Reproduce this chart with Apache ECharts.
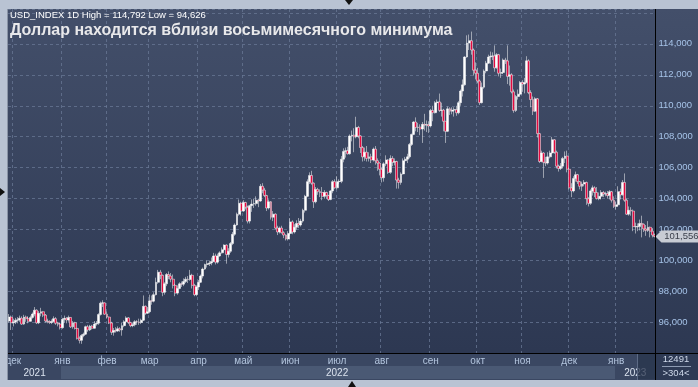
<!DOCTYPE html>
<html><head><meta charset="utf-8">
<script src="https://cdn.jsdelivr.net/npm/echarts@6/dist/echarts.min.js"></script>
<style>html,body{margin:0;padding:0;background:#b9c3d3;}#c{width:698px;height:387px;}</style>
</head><body><div id="c"></div>
<script>
// ---- DATA (rows: [open, close, low, high]) ----
const startDate = '2021-11-29';
const nov21 = [[96.10,96.35,96.00,96.55],[96.35,95.99,95.52,96.45]];
const dec21 = [[95.99,96.04,95.75,96.25],[96.04,96.15,95.90,96.30],[96.15,96.17,95.95,96.35],[96.17,96.28,96.05,96.45],[96.28,95.90,95.85,96.40],[95.90,96.35,95.85,96.50],[96.35,96.25,96.05,96.45],[96.25,96.08,95.95,96.40],[96.08,96.33,96.05,96.45],[96.33,96.55,96.25,96.65],[96.55,96.80,96.40,97.00],[96.80,95.98,95.90,96.85],[95.98,96.60,95.90,96.75],[96.60,96.70,96.40,96.95],[96.70,96.48,96.35,96.75],[96.48,96.10,96.00,96.55],[96.10,96.06,95.95,96.25],[96.06,96.00,95.90,96.15],[96.00,96.06,95.90,96.20],[96.06,96.25,96.00,96.40],[96.25,95.95,95.85,96.35],[95.95,95.90,95.75,96.05],[95.90,95.67,95.55,96.00]];
const jan22 = [[95.67,96.21,95.60,96.30],[96.21,96.27,96.00,96.45],[96.27,96.17,95.95,96.35],[96.17,96.33,96.05,96.45],[96.33,95.72,95.65,96.35],[95.72,95.99,95.60,96.10],[95.99,95.62,95.55,96.05],[95.62,94.98,94.90,95.65],[94.98,94.85,94.65,95.10],[94.85,95.17,94.626,95.25],[95.17,95.25,95.05,95.35],[95.25,95.73,95.20,95.80],[95.73,95.52,95.40,95.85],[95.52,95.77,95.45,95.85],[95.77,95.63,95.55,95.85],[95.63,95.90,95.60,96.10],[95.90,95.96,95.80,96.10],[95.96,96.52,95.85,96.60],[96.52,97.25,96.45,97.35],[97.25,97.27,97.00,97.44],[97.27,96.54,96.50,97.30]];
const feb22 = [[96.54,96.35,96.25,96.70],[96.35,95.97,95.90,96.40],[95.97,95.37,95.20,96.05],[95.37,95.49,95.15,95.65],[95.49,95.45,95.35,95.70],[95.45,95.60,95.40,95.75],[95.60,95.52,95.40,95.70],[95.52,95.80,95.15,96.00],[95.80,96.05,95.70,96.15],[96.05,96.30,95.95,96.40],[96.30,96.00,95.90,96.35],[96.00,95.80,95.70,96.05],[95.80,95.85,95.70,96.00],[95.85,96.05,95.75,96.15],[96.05,96.04,95.85,96.15],[96.04,96.00,95.85,96.25],[96.00,96.15,95.90,96.25],[96.15,97.05,96.10,97.75],[97.05,96.60,96.50,97.10],[96.60,96.70,96.55,97.00]];
const mar22 = [[96.70,97.40,96.60,97.80],[97.40,97.38,97.15,97.75],[97.38,97.80,97.30,97.95],[97.80,98.60,97.75,98.90],[98.60,99.25,98.50,99.40],[99.25,99.05,98.80,99.40],[99.05,97.95,97.70,99.10],[97.95,98.50,97.80,98.60],[98.50,99.10,98.35,99.20],[99.10,99.00,98.80,99.30],[99.00,98.80,98.60,99.20],[98.80,98.40,98.20,99.10],[98.40,97.90,97.70,98.50],[97.90,98.20,97.80,98.40],[98.20,98.50,98.15,98.60],[98.50,98.48,98.30,98.65],[98.48,98.65,98.35,98.85],[98.65,98.80,98.55,98.95],[98.80,98.78,98.55,99.00],[98.78,99.05,98.70,99.40],[99.05,98.40,98.20,99.15],[98.40,97.80,97.70,98.50],[97.80,98.30,97.70,98.40]];
const apr22 = [[98.30,98.60,98.10,98.75],[98.60,99.00,98.55,99.10],[99.00,99.45,98.85,99.55],[99.45,99.75,99.40,99.80],[99.75,99.80,99.55,100.00],[99.80,99.85,99.65,100.00],[99.85,99.95,99.70,100.20],[99.95,100.30,99.90,100.50],[100.30,99.90,99.75,100.45],[99.90,100.30,99.80,100.45],[100.30,100.50,100.25,100.60],[100.50,100.70,100.45,100.85],[100.70,101.00,100.60,101.05],[101.00,100.40,99.80,101.05],[100.40,100.60,100.20,100.80],[100.60,101.10,100.50,101.20],[101.10,101.70,101.00,101.85],[101.70,102.30,101.60,102.40],[102.30,103.00,102.25,103.10],[103.00,103.70,102.90,103.95],[103.70,103.20,102.90,103.80]];
const may22 = [[103.20,103.75,103.15,103.90],[103.75,103.45,103.30,103.80],[103.45,102.55,102.40,103.55],[102.55,103.55,102.40,103.60],[103.55,103.65,103.15,103.95],[103.65,103.68,103.40,104.00],[103.68,103.90,103.55,104.15],[103.90,103.85,103.45,104.00],[103.85,104.80,103.80,104.95],[104.80,104.55,104.35,105.00],[104.55,104.20,104.10,104.70],[104.20,103.40,103.20,104.25],[103.40,103.80,103.30,103.95],[103.80,102.80,102.65,103.85],[102.80,103.00,102.55,103.20],[103.00,102.10,102.00,103.05],[102.10,101.85,101.65,102.25],[101.85,102.10,101.75,102.20],[102.10,101.80,101.75,102.25],[101.80,101.65,101.45,101.90],[101.65,101.40,101.30,101.70],[101.40,101.75,101.30,101.90]];
const jun22 = [[101.75,102.50,101.60,102.75],[102.50,101.85,101.70,102.60],[101.85,102.15,101.75,102.35],[102.15,102.40,102.00,102.60],[102.40,102.30,102.10,102.75],[102.30,102.55,102.20,102.70],[102.55,103.25,102.45,103.35],[103.25,104.15,103.10,104.25],[104.15,105.10,104.10,105.25],[105.10,105.50,104.95,105.70],[105.50,105.00,104.90,105.80],[105.00,103.80,103.40,105.05],[103.80,104.60,103.70,104.75],[104.60,104.45,104.25,104.70],[104.45,104.40,104.10,104.60],[104.40,104.15,103.90,104.75],[104.15,104.40,104.00,104.55],[104.40,104.20,104.00,104.45],[104.20,103.95,103.85,104.25],[103.95,104.50,103.90,104.55],[104.50,105.10,104.35,105.20],[105.10,104.70,104.65,105.25]];
const jul22 = [[104.70,105.10,104.60,105.45],[105.10,105.12,104.95,105.25],[105.12,106.55,105.00,106.75],[106.55,107.05,106.35,107.25],[107.05,107.10,106.65,107.30],[107.10,106.90,106.85,107.35],[106.90,108.05,106.85,108.15],[108.05,108.10,107.70,108.40],[108.10,108.00,107.00,108.55],[108.00,108.60,107.90,109.29],[108.60,108.05,107.90,108.70],[108.05,107.30,106.95,108.10],[107.30,106.70,106.40,107.40],[106.70,107.00,106.45,107.30],[107.00,106.60,106.40,107.40],[106.60,106.70,106.40,107.00],[106.70,106.50,106.30,106.90],[106.50,107.20,106.40,107.30],[107.20,106.45,106.20,107.40],[106.45,106.30,105.80,106.60],[106.30,105.90,105.50,106.35]];
const aug22 = [[105.90,105.35,105.05,106.00],[105.35,106.25,105.10,106.35],[106.25,106.50,106.10,106.80],[106.50,105.70,105.60,106.55],[105.70,106.60,105.60,106.80],[106.60,106.35,106.10,106.75],[106.35,106.40,106.15,106.60],[106.40,105.20,104.65,106.45],[105.20,105.05,104.65,105.35],[105.05,105.60,104.90,105.70],[105.60,106.45,105.55,106.60],[106.45,106.55,106.20,106.70],[106.55,106.70,106.30,106.90],[106.70,107.50,106.60,107.60],[107.50,108.15,107.40,108.20],[108.15,108.95,108.10,109.00],[108.95,108.60,108.35,109.25],[108.60,108.62,108.30,108.90],[108.62,108.50,108.10,108.80],[108.50,108.80,107.60,108.95],[108.80,108.75,108.40,109.48],[108.75,108.78,108.30,109.05],[108.78,108.70,108.25,109.00]];
const sep22 = [[108.70,109.70,108.60,109.80],[109.70,109.55,109.00,110.00],[109.55,110.20,109.50,110.30],[110.20,110.25,109.60,110.40],[110.25,109.70,109.60,110.79],[109.70,109.72,109.30,110.20],[109.72,109.00,108.35,109.80],[109.00,108.35,107.60,109.00],[108.35,109.80,108.30,109.95],[109.80,109.65,109.40,109.90],[109.65,109.72,109.45,109.90],[109.72,109.75,109.30,109.90],[109.75,109.55,109.35,110.00],[109.55,110.20,109.45,110.30],[110.20,110.95,110.00,111.05],[110.95,111.35,110.60,111.70],[111.35,113.15,111.30,113.20],[113.15,114.05,113.10,114.55],[114.05,114.20,113.60,114.60],[114.20,113.60,113.30,114.792],[113.60,112.30,111.95,113.70],[112.30,112.10,111.70,112.80]];
const oct22 = [[112.10,111.60,111.45,112.45],[111.60,110.20,110.05,111.70],[110.20,111.20,110.15,111.50],[111.20,112.25,111.10,112.35],[112.25,112.75,112.10,112.90],[112.75,113.15,112.70,113.30],[113.15,113.20,112.70,113.50],[113.20,113.22,112.95,113.45],[113.22,112.45,112.20,113.90],[112.45,113.30,112.40,113.40],[113.30,112.10,111.90,113.35],[112.10,112.15,111.80,112.40],[112.15,112.95,112.05,113.05],[112.95,112.90,112.70,113.10],[112.90,111.90,111.40,113.90],[111.90,112.00,111.30,112.60],[112.00,110.90,110.80,112.10],[110.90,109.70,109.55,111.05],[109.70,110.60,109.60,110.70],[110.60,110.75,110.40,111.05],[110.75,111.50,110.70,111.60]];
const nov22 = [[111.50,111.40,110.90,111.65],[111.40,111.50,110.80,111.80],[111.50,112.90,111.45,113.20],[112.90,110.85,110.75,113.00],[110.85,110.40,109.90,111.00],[110.40,109.65,109.40,110.60],[109.65,110.45,109.60,110.55],[110.45,108.20,107.95,110.50],[108.20,106.40,106.30,108.25],[106.40,106.95,106.35,107.10],[106.95,106.35,105.34,107.00],[106.35,106.30,106.10,106.70],[106.30,106.70,106.20,107.00],[106.70,106.95,106.60,107.10],[106.95,107.80,106.90,107.99],[107.80,107.00,106.90,107.85],[107.00,106.10,105.95,107.10],[106.10,105.95,105.75,106.20],[105.95,106.10,105.85,106.30],[106.10,106.60,105.95,106.70],[106.60,106.75,106.30,107.05],[106.75,105.90,105.70,107.10]];
const dec22 = [[105.90,104.70,104.60,106.00],[104.70,104.50,104.10,105.00],[104.50,105.30,104.40,105.45],[105.30,105.55,105.10,105.75],[105.55,105.10,104.95,105.60],[105.10,104.80,104.60,105.15],[104.80,104.95,104.50,105.10],[104.95,105.05,104.80,105.20],[105.05,104.00,103.60,105.10],[104.00,103.70,103.50,104.10],[103.70,104.50,103.60,104.60],[104.50,104.70,104.20,104.85],[104.70,104.40,104.10,104.80],[104.40,104.00,103.95,104.75],[104.00,104.15,103.90,104.40],[104.15,104.40,103.95,104.55],[104.40,104.30,104.10,104.50],[104.30,104.32,104.15,104.45],[104.32,104.20,104.00,104.50],[104.20,104.45,103.95,104.55],[104.45,103.90,103.75,104.50],[103.90,103.50,103.40,104.15]];
const jan23 = [[103.50,103.60,103.30,103.80],[103.60,104.45,103.50,104.80],[104.45,104.25,103.95,104.65],[104.25,105.05,104.20,105.20],[105.05,103.90,103.80,105.63],[103.90,103.00,102.95,104.00],[103.00,103.25,102.90,103.50],[103.25,103.20,102.90,103.45],[103.20,102.20,101.90,103.30],[102.20,102.18,101.75,102.45],[102.18,102.20,101.90,102.40],[102.20,102.40,101.95,102.65],[102.40,102.35,101.50,102.90],[102.35,102.05,101.85,102.40],[102.05,101.95,101.60,102.30],[101.95,102.15,101.85,102.55],[102.15,101.90,101.50,102.20],[101.90,101.65,101.50,102.10],[101.65,101.556,101.50,101.75]];
const monthNames = ['янв','фев','мар','апр','май','июн','июл','авг','сен','окт','ноя','дек'];
const yearLabels = ['2021','2022','2023'];
const titleText = 'Доллар находится вблизи восьмимесячного минимума';
const infoText = 'USD_INDEX 1D High = 114,792 Low = 94,626';
const lastPriceText = '101,556';
const lastPrice = 101.556;
const footerTop = '12491';
const footerBottom = '>304<';

// ---- build ----
const candles = [].concat(nov21,dec21,jan22,feb22,mar22,apr22,may22,jun22,jul22,aug22,sep22,oct22,nov22,dec22,jan23);
function buildDates(start, n){
  const out=[]; const d=new Date(start+'T00:00:00Z');
  while(out.length<n){ const wd=d.getUTCDay(); if(wd!==0&&wd!==6) out.push(d.toISOString().slice(0,10)); d.setUTCDate(d.getUTCDate()+1); }
  return out;
}
const dates = buildDates(startDate, candles.length);
const monthStart = new Set();
for(let i=1;i<dates.length;i++){ if(dates[i].slice(0,7)!==dates[i-1].slice(0,7)) monthStart.add(i); }
const yearCenter = {};
yearLabels.forEach(y=>{ let f=-1,l=-1; dates.forEach((d,i)=>{ if(d.slice(0,4)===y){ if(f<0) f=i; l=i; } }); yearCenter[Math.floor((f+l)/2)] = y; });

const GL=8, GR=655.5, GT=9, GB=353.5;
const chart = echarts.init(document.getElementById('c'), null, {renderer:'canvas'});
const gridColor = 'rgba(105,120,150,0.75)';
const option = {
  animation:false,
  backgroundColor:'transparent',
  grid:{left:GL, top:GT, width:GR-GL, height:GB-GT, containLabel:false},
  xAxis:[{
    type:'category', data:dates, boundaryGap:true,
    axisLine:{show:false}, axisTick:{show:false},
    axisLabel:{interval:(i)=>monthStart.has(i), formatter:(v)=>monthNames[parseInt(v.slice(5,7),10)-1], color:'#b3c5de', fontSize:10, fontFamily:'Liberation Sans', margin:3},
    splitLine:{show:true, interval:(i)=>monthStart.has(i), lineStyle:{color:gridColor, type:[3,3], width:1}}
  },{
    type:'category', data:dates, boundaryGap:true, position:'bottom', offset:12,
    axisLine:{show:false}, axisTick:{show:false}, splitLine:{show:false},
    axisLabel:{interval:(i)=>yearCenter[i]!==undefined, formatter:(v,i)=>yearCenter[i]||'', color:'#dbe3ef', fontSize:10, fontFamily:'Liberation Sans', margin:3}
  }],
  yAxis:{
    type:'value', position:'right', min:94, max:116.25, interval:2,
    axisLine:{show:false}, axisTick:{show:false},
    axisLabel:{color:'#a6c3e8', fontSize:9.5, fontFamily:'Liberation Sans', margin:3,
      formatter:(v)=> (v<=94.01||v>=115.9) ? '' : v.toFixed(3).replace('.',',')},
    splitLine:{show:true, lineStyle:{color:gridColor, type:[3,3], width:1}}
  },
  series:[{
    type:'candlestick', data:candles, barWidth:2.4,
    itemStyle:{color:'#ffffff', color0:'#e5093f', borderColor:'#ffffff', borderColor0:'#ffffff', borderWidth:0.5},
    markPoint:{
      symbol:'path://M0,6L6,0L46,0L46,12L6,12Z', symbolSize:[46,12], symbolOffset:[24,0], symbolKeepAspect:false,
      itemStyle:{color:'#c8ccd4'},
      label:{show:true, position:'inside', formatter:lastPriceText, color:'#3a3f4a', fontSize:9.5, fontFamily:'Liberation Sans', offset:[3,0]},
      data:[{coord:[dates.length-1, lastPrice]}]
    }
  }],
  graphic:[
    {type:'rect', z:-100, silent:true, shape:{x:GL,y:GT,width:698-GL,height:380-GT},
      style:{fill:new echarts.graphic.LinearGradient(0,0,0,1,[{offset:0,color:'#434f6a'},{offset:1,color:'#2b3650'}])}},
    {type:'rect', z:-50, silent:true, shape:{x:GL,y:GB,width:GR-GL,height:380-GB}, style:{fill:'#3a4762'}},
    {type:'rect', z:-49, silent:true, shape:{x:61,y:366,width:554,height:13}, style:{fill:'#4a5974'}},
    {type:'rect', z:-49, silent:true, shape:{x:GR,y:GB,width:698-GR,height:380-GB}, style:{fill:'#2e3a54'}},
    {type:'rect', z:100, silent:true, shape:{x:638,y:GB+0.5,width:17,height:380-GB-1}, style:{fill:'rgba(40,52,76,0.75)'}},
    {type:'line', z:100, silent:true, shape:{x1:637.5,y1:GB,x2:637.5,y2:380}, style:{stroke:'#5d6b86',lineWidth:1}},
    {type:'line', z:110, silent:true, shape:{x1:GL,y1:GB,x2:698,y2:GB}, style:{stroke:'#000000',lineWidth:1}},
    {type:'line', z:110, silent:true, shape:{x1:GR,y1:GT,x2:GR,y2:380}, style:{stroke:'#000000',lineWidth:1}},
    {type:'rect', z:120, silent:true, shape:{x:0,y:0,width:GL,height:387}, style:{fill:'#b9c3d3'}},
    {type:'rect', z:120, silent:true, shape:{x:0,y:0,width:698,height:GT}, style:{fill:'#b9c3d3'}},
    {type:'rect', z:120, silent:true, shape:{x:0,y:380,width:698,height:7}, style:{fill:'#b9c3d3'}},
    {type:'line', z:121, silent:true, shape:{x1:GL-0.5,y1:GT,x2:GL-0.5,y2:380}, style:{stroke:'#8a94a6',lineWidth:1}},
    {type:'polygon', z:125, silent:true, shape:{points:[[345,0],[353,0],[349,5]]}, style:{fill:'#111'}},
    {type:'polygon', z:125, silent:true, shape:{points:[[0,188],[0,196],[5,192]]}, style:{fill:'#111'}},
    {type:'polygon', z:125, silent:true, shape:{points:[[348,387],[356,387],[352,381]]}, style:{fill:'#111'}},
    {type:'text', z:130, silent:true, style:{x:10, y:10, text:infoText, fill:'#ffffff', font:'9.5px "Liberation Sans"'}},
    {type:'text', z:130, silent:true, style:{x:10, y:23, text:titleText, fill:'#e8e8ea', font:'bold 16px "Liberation Sans"'}},
    {type:'text', z:130, silent:true, style:{x:676, y:354, text:footerTop, fill:'#cfd9ea', font:'9.5px "Liberation Sans"', textAlign:'center'}},
    {type:'line', z:130, silent:true, shape:{x1:662,y1:366.5,x2:691,y2:366.5}, style:{stroke:'#8e9bb2',lineWidth:1}},
    {type:'text', z:130, silent:true, style:{x:676, y:368, text:footerBottom, fill:'#cfd9ea', font:'9.5px "Liberation Sans"', textAlign:'center'}}
  ]
};
chart.setOption(option);
</script></body></html>
